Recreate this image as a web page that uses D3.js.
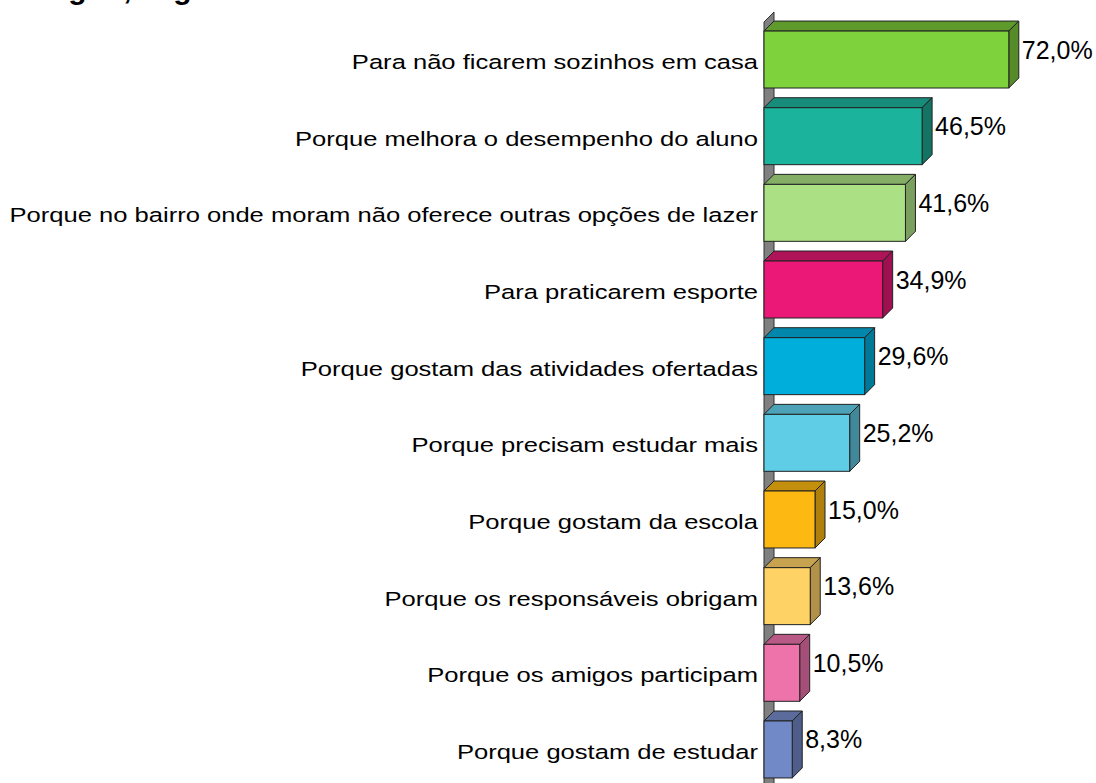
<!DOCTYPE html>
<html>
<head>
<meta charset="utf-8">
<script src="https://cdn.jsdelivr.net/npm/d3@7"></script>
<style>
  html, body { margin: 0; padding: 0; background: #fff; }
  svg { display: block; }
  text { font-family: "Liberation Sans", Arial, sans-serif; fill: #000; }
</style>
</head>
<body>
<svg id="chart" width="1096" height="783"></svg>
<script>
// Motivos para participar do programa (%)
const categories = [
  "Para não ficarem sozinhos em casa",
  "Porque melhora o desempenho do aluno",
  "Porque no bairro onde moram não oferece outras opções de lazer",
  "Para praticarem esporte",
  "Porque gostam das atividades ofertadas",
  "Porque precisam estudar mais",
  "Porque gostam da escola",
  "Porque os responsáveis obrigam",
  "Porque os amigos participam",
  "Porque gostam de estudar"
];
const values = [72.0, 46.5, 41.6, 34.9, 29.6, 25.2, 15.0, 13.6, 10.5, 8.3];
const valueLabels = ["72,0%", "46,5%", "41,6%", "34,9%", "29,6%", "25,2%", "15,0%", "13,6%", "10,5%", "8,3%"];

// front face / top face / side face colours per bar
const frontColors = ["#7ED23C", "#1BB39C", "#ABE085", "#EC1878", "#00AEDC", "#5FCDE6", "#FDB912", "#FFD266", "#EE73AA", "#7289C8"];
const topColors   = ["#5E9A2C", "#188C7A", "#84AE66", "#B01458", "#0087AB", "#4CA3B7", "#C58F0E", "#C7A350", "#B85A85", "#5A6B9C"];
const sideColors  = ["#558B28", "#137464", "#7A9F5E", "#9E1050", "#007999", "#41899A", "#B07F0C", "#B29248", "#A54E77", "#4E5D8A"];

const svg = d3.select("#chart");
const depth = 10;          // 3D extrusion offset
const x0 = 764;

const x = d3.scaleLinear().domain([0, 100]).range([x0, x0 + 340]);
const y = d3.scaleBand()
  .domain(categories)
  .range([21.2, 787.8])
  .paddingInner(0.257)
  .paddingOuter(0.1285);

// title line (runs off the top edge)
svg.append("text")
  .attr("x", 475).attr("y", -1)
  .attr("text-anchor", "end")
  .style("font-size", "30px")
  .style("font-weight", "bold")
  .text("Integral, segundo a comunidade");

// back wall
svg.append("polygon")
  .attr("points", [[x0, 22], [x0 + depth, 12], [x0 + depth, 795], [x0, 805]].map(p => p.join(",")).join(" "))
  .attr("fill", "#808080")
  .attr("stroke", "#333")
  .attr("stroke-width", 1);

const bars = svg.append("g").selectAll("g")
  .data(categories.map((c, i) => ({ c, v: values[i], label: valueLabels[i], i })))
  .join("g");

// top face
bars.append("polygon")
  .attr("points", d => {
    const yt = y(d.c), xl = x(0), xr = x(d.v);
    return [[xl, yt], [xl + depth, yt - depth], [xr + depth, yt - depth], [xr, yt]].map(p => p.join(",")).join(" ");
  })
  .attr("fill", d => topColors[d.i])
  .attr("stroke", "#222").attr("stroke-width", 1).attr("stroke-linejoin", "round");

// side face
bars.append("polygon")
  .attr("points", d => {
    const yt = y(d.c), yb = yt + y.bandwidth(), xr = x(d.v);
    return [[xr, yt], [xr + depth, yt - depth], [xr + depth, yb - depth], [xr, yb]].map(p => p.join(",")).join(" ");
  })
  .attr("fill", d => sideColors[d.i])
  .attr("stroke", "#222").attr("stroke-width", 1).attr("stroke-linejoin", "round");

// front face
bars.append("rect")
  .attr("x", x(0))
  .attr("y", d => y(d.c))
  .attr("width", d => x(d.v) - x(0))
  .attr("height", y.bandwidth())
  .attr("fill", d => frontColors[d.i])
  .attr("stroke", "#222").attr("stroke-width", 1);

// value labels
bars.append("text")
  .attr("x", d => x(d.v) + depth + 3)
  .attr("y", d => y(d.c) + 27.5)
  .style("font-size", "25px")
  .text(d => d.label);

// category labels (wide-set type)
bars.append("text")
  .attr("transform", d => `translate(758,${y(d.c) + y.bandwidth() / 2 + 9.5}) scale(1.247,1)`)
  .attr("text-anchor", "end")
  .style("font-size", "20.5px")
  .text(d => d.c);
</script>
</body>
</html>
